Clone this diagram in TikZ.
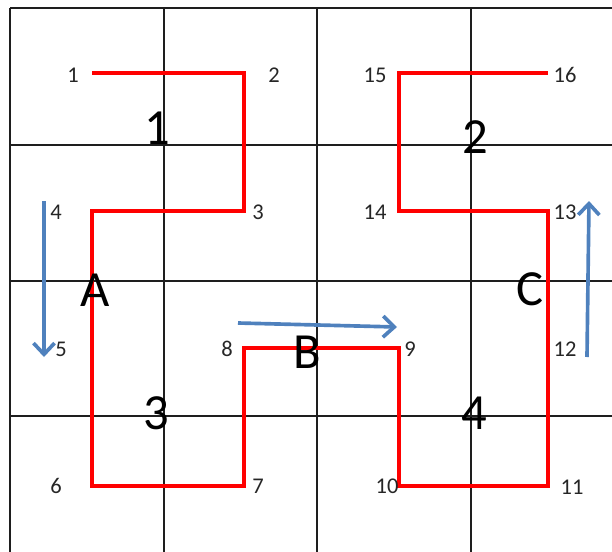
\documentclass[tikz,border=0pt]{standalone}
\usepackage{fontspec}
\setmainfont{Carlito}
\usetikzlibrary{arrows.meta}
\definecolor{arrowblue}{RGB}{79,129,189}
\definecolor{gridgray}{RGB}{30,30,30}

\begin{document}
\begin{tikzpicture}[x=0.025cm,y=-0.025cm,
 gridline/.style={draw=gridgray,line width=0.9pt},
 route/.style={draw=red,line width=2.8pt,line join=miter},
 dirarr/.style={draw=arrowblue,line width=2.6pt,-{Straight Barb[length=8pt,width=15pt]}},
 num/.style={font=\fontsize{16}{17}\selectfont,inner sep=0pt,text=black!85},
 big/.style={font=\fontsize{36}{38}\selectfont,inner sep=0pt}]
\useasboundingbox (0,0) rectangle (612,552);
% grid
\foreach \gx in {10,164,317,471} \draw[gridline] (\gx,8) -- (\gx,552);
\foreach \gy in {8,145,281,416} \draw[gridline] (10,\gy) -- (612,\gy);
% corners of the route
\coordinate (c1) at (92,73);   \coordinate (c2) at (244,73);
\coordinate (c3) at (244,211); \coordinate (c4) at (92,211);
\coordinate (c5) at (92,348);  \coordinate (c6) at (92,486);
\coordinate (c7) at (244,486); \coordinate (c8) at (244,348);
\coordinate (c9) at (399,348); \coordinate (c10) at (399,486);
\coordinate (c11) at (548,486); \coordinate (c12) at (548,348);
\coordinate (c13) at (548,211); \coordinate (c14) at (399,211);
\coordinate (c15) at (399,73); \coordinate (c16) at (548,73);
\draw[route] (c1) -- (c2) -- (c3) -- (c4) -- (c5) -- (c6) -- (c7) -- (c8)
 -- (c9) -- (c10) -- (c11) -- (c12) -- (c13) -- (c14) -- (c15) -- (c16);
% point numbers
\node[num] (n1) at (73,75) {1};    \node[num] (n2) at (274,75) {2};
\node[num] (n3) at (258,212) {3};  \node[num] (n4) at (56,212) {4};
\node[num] (n5) at (61,349) {5};   \node[num] (n6) at (56,486) {6};
\node[num] (n7) at (258,486) {7};  \node[num] (n8) at (227,349) {8};
\node[num] (n9) at (410,349) {9};  \node[num] (n10) at (387,486) {10};
\node[num] (n11) at (572,487) {11}; \node[num] (n12) at (565,349) {12};
\node[num] (n13) at (565,212) {13}; \node[num] (n14) at (375,212) {14};
\node[num] (n15) at (375,75) {15}; \node[num] (n16) at (565,75) {16};
% quadrant numbers and letters
\node[big] (q1) at (157,128) {1};
\node[big] (q2) at (475,137) {2};
\node[big] (q3) at (156,413) {3};
\node[big] (q4) at (474,413) {4};
\node[big] (la) at (95,290) {A};
\node[big] (lb) at (307,352) {B};
\node[big] (lc) at (530,289) {C};
% direction arrows
\coordinate (a1) at (44,201);  \coordinate (a2) at (44,357);
\coordinate (b1) at (238,323); \coordinate (b2) at (397,327);
\coordinate (d1) at (587,357); \coordinate (d2) at (589,201);
\draw[dirarr] (a1) -- (a2);
\draw[dirarr] (b1) -- (b2);
\draw[dirarr] (d1) -- (d2);
\end{tikzpicture}
\end{document}
